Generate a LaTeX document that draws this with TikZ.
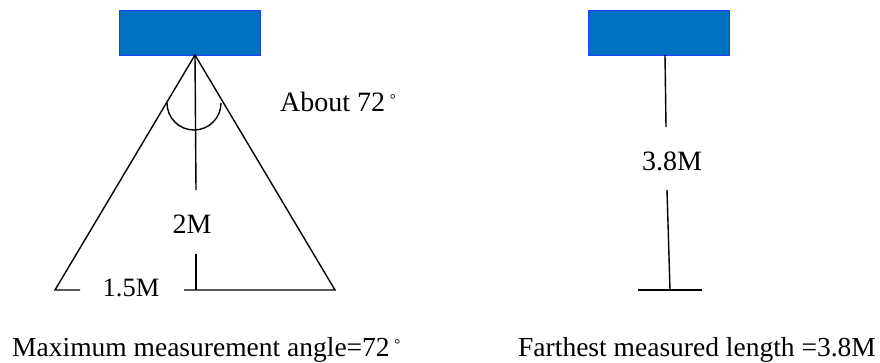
\documentclass[tikz,border=0pt]{standalone}
\usepackage{fontspec}
\setmainfont{Liberation Serif}
\definecolor{boxfill}{HTML}{0070C0}
\definecolor{boxline}{HTML}{1F3FFF}
\newcommand{\degsym}{\,\raisebox{0.5ex}{\fontsize{15}{15}\selectfont °}}
\begin{document}
\begin{tikzpicture}[x=1pt,y=-1pt,
  sensor/.style={draw=boxline,fill=boxfill,line width=1pt,minimum width=141pt,minimum height=45pt,inner sep=0pt},
  lbl/.style={inner sep=0pt,font=\fontsize{28}{32}\selectfont},
  captxt/.style={inner sep=0pt,font=\fontsize{27.5}{32}\selectfont},
  ln/.style={line width=1.4pt}]
\useasboundingbox (0,0) rectangle (880,362);
% left figure
\node[sensor] (boxL) at (189.5,32.5) {};
\coordinate (apex) at (195,55);
\coordinate (bl) at (55,290);
\coordinate (br) at (335,290);
\coordinate (bl2) at (80,290);
\coordinate (bm) at (184,290);
\coordinate (vt) at (196,190);
\coordinate (vb) at (196,254);
\coordinate (vbot) at (196,290);
\draw[ln] (bl2) -- (bl) -- (apex) -- (br) -- (bm);
\draw[ln] (apex) -- (vt);
\draw[ln] (vb) -- (vbot);
\draw[ln] (167,103) arc[start angle=180,end angle=0,radius=27];
\node[lbl,anchor=base west] (about) at (280,111) {About 72\degsym};
\node[lbl,anchor=base] (twoM) at (192,233) {2M};
\node[lbl,anchor=base,font=\fontsize{26.5}{30}\selectfont] (onefive) at (131,296) {1.5M};
% right figure
\node[sensor] (boxR) at (658.5,32.5) {};
\coordinate (rt) at (665,55);
\coordinate (rm1) at (666,127);
\coordinate (rm2) at (667,190);
\coordinate (rb) at (670,290);
\coordinate (rbl) at (638,290);
\coordinate (rbr) at (702,290);
\draw[ln] (rt) -- (rm1);
\draw[ln] (rm2) -- (rb);
\draw[ln] (rbl) -- (rbr);
\node[lbl,anchor=base] (threeeight) at (672,170) {3.8M};
% captions
\node[captxt,anchor=base west] (capL) at (12,356) {Maximum measurement angle=72\degsym};
\node[captxt,anchor=base west] (capR) at (518,356) {Farthest measured length =3.8M};
\end{tikzpicture}
\end{document}
